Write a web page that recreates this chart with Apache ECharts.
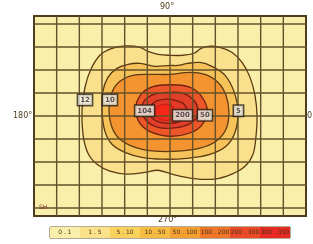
<!DOCTYPE html>
<html>
<head>
<meta charset="utf-8">
<script src="https://cdn.jsdelivr.net/npm/echarts@6/dist/echarts.min.js"></script>
<style>
  html, body { margin: 0; padding: 0; background: #fff; }
  #main { width: 313px; height: 244px; }
</style>
</head>
<body>
<div id="main"></div>
<script>
  // plot extent in grid cells (x: 12 columns, y: rows around the 180-0 line)
  var xMin = 0, xMax = 12;
  var yMin = -4.35, yMax = 4.35;
  var colTicks = [1, 2, 3, 4, 5, 6, 7, 8, 9, 10, 11];
  var rowTicks = [-4, -3, -2, -1, 0, 1, 2, 3, 4];

  // contour outlines, outermost first (in grid cells)
  var contour1 = [[6.00, 2.64], [5.47, 2.68], [5.03, 2.81], [4.68, 2.99], [4.06, 3.05], [3.44, 2.94], [2.91, 2.64], [2.51, 2.03],
    [2.25, 1.25], [2.12, 0.29], [2.16, -0.80], [2.38, -1.62], [2.78, -2.10], [3.35, -2.40], [4.10, -2.53], [4.90, -2.45],
    [5.47, -2.36], [6.09, -2.53], [6.97, -2.71], [7.94, -2.75], [8.73, -2.53], [9.31, -2.19], [9.66, -1.67], [9.79, -0.93],
    [9.84, 0.00], [9.75, 0.90], [9.53, 1.68], [9.18, 2.33], [8.73, 2.77], [8.20, 2.99], [7.68, 3.03], [7.37, 2.94],
    [7.06, 2.73], [6.53, 2.64]];
  var contour2 = [[6.00, 2.20], [5.34, 2.16], [4.68, 2.29], [4.15, 2.25], [3.66, 2.07], [3.26, 1.68], [3.04, 1.07], [3.00, 0.20],
    [3.13, -0.67], [3.44, -1.23], [4.01, -1.58], [4.76, -1.80], [5.69, -1.88], [6.75, -1.84], [7.76, -1.67], [8.47, -1.32],
    [8.87, -0.71], [9.00, 0.20], [8.82, 1.07], [8.43, 1.77], [7.85, 2.16], [7.32, 2.33], [6.79, 2.29], [6.35, 2.20]];
  var contour3 = [[6.00, 1.81], [5.12, 1.81], [4.37, 1.77], [3.79, 1.51], [3.44, 1.03], [3.31, 0.29], [3.44, -0.49], [3.79, -1.01],
    [4.46, -1.36], [5.34, -1.53], [6.35, -1.53], [7.32, -1.40], [8.03, -1.10], [8.47, -0.58], [8.60, 0.16], [8.47, 0.90],
    [8.12, 1.46], [7.54, 1.81], [6.88, 1.90]];
  var contour4 = [[6.04, 1.36], [5.21, 1.27], [4.70, 0.92], [4.48, 0.29], [4.66, -0.30], [5.12, -0.68], [6.00, -0.88], [6.88, -0.74],
    [7.43, -0.36], [7.64, 0.29], [7.34, 0.92], [6.84, 1.27]];
  var contour5 = [[6.00, 1.03], [5.29, 0.94], [4.85, 0.64], [4.76, 0.20], [4.98, -0.23], [5.47, -0.49], [6.09, -0.53], [6.75, -0.40],
    [7.15, -0.10], [7.24, 0.29], [7.01, 0.73], [6.57, 0.99]];
  var contour6 = [[5.91, 0.73], [5.38, 0.64], [5.12, 0.38], [5.12, 0.03], [5.43, -0.23], [6.00, -0.32], [6.53, -0.19], [6.75, 0.12],
    [6.62, 0.51], [6.22, 0.68]];
  var contour7 = [[5.69, 0.51], [5.43, 0.38], [5.34, 0.16], [5.47, -0.10], [5.87, -0.19], [6.13, -0.06], [6.18, 0.25], [6.04, 0.47]];

  var contours = [contour1, contour2, contour3, contour4, contour5, contour6, contour7];
  var contourColors = ['#f8e08c', '#f6c35a', '#f39430', '#ec5628', '#e0402a', '#e33a26', '#f52818'];
  var contourStroke = ['#5c3a12', '#5c3a12', '#5c3a12', '#6e2410', '#7a1c12', '#7a1c12', '#c8201a'];

  // value boxes on the contours
  var boxText = ['12', '10', '104', '200', '50', '5'];
  var boxX = [2.25, 3.35, 4.88, 6.55, 7.54, 9.02];
  var boxY = [0.70, 0.70, 0.23, 0.03, 0.03, 0.23];

  // colour scale below the chart
  var legendLabels = ['0 . 1', '1 . 5', '5 . 10', '10 . 50', '50 . 100', '100 . 200', '200 . 300', '300 . 350'];
  var legendColors = ['#f9efaa', '#f9e28a', '#f8d25c', '#f6bb42', '#f49f32', '#f0762a', '#ea4a26', '#e82a22'];

  var chart = echarts.init(document.getElementById('main'));

  var option = {
    animation: false,
    grid: [
      {left: 34, right: 7, top: 16, bottom: 28, show: true, backgroundColor: '#f9efaa', borderColor: '#4e3c1c', borderWidth: 2},
      {left: 50, width: 240, top: 227, height: 11, show: true, borderColor: '#6a5634', borderWidth: 1}
    ],
    xAxis: [
      {type: 'value', min: xMin, max: xMax, show: false},
      {type: 'category', gridIndex: 1, data: legendLabels, show: false}
    ],
    yAxis: [
      {type: 'value', min: yMin, max: yMax, show: false},
      {type: 'value', gridIndex: 1, min: 0, max: 1, show: false}
    ],
    graphic: [
      {type: 'text', left: 160, top: 3, style: {text: '90°', fontSize: 8, fill: '#4e3c1c', fontFamily: 'DejaVu Sans'}},
      {type: 'text', left: 158, top: 216, style: {text: '270°', fontSize: 8, fill: '#4e3c1c', fontFamily: 'DejaVu Sans'}},
      {type: 'text', left: 13, top: 112, style: {text: '180°', fontSize: 8, fill: '#4e3c1c', fontFamily: 'DejaVu Sans'}},
      {type: 'text', left: 307, top: 112, style: {text: '0', fontSize: 8, fill: '#4e3c1c', fontFamily: 'DejaVu Sans'}},
      {type: 'text', left: 39, top: 204, z: 20, style: {text: 'SH', fontSize: 6, fill: '#7a3020', fontFamily: 'DejaVu Sans'}}
    ],
    series: [
      {
        type: 'custom',
        z: 2,
        data: contours.map(function (c, i) { return [i, 0]; }),
        renderItem: function (params, api) {
          var i = params.dataIndex;
          var pts = contours[i].map(function (p) { return api.coord(p); });
          return {
            type: 'polygon',
            shape: {points: pts, smooth: 0.35},
            style: {fill: contourColors[i], stroke: contourStroke[i], lineWidth: 1.3}
          };
        }
      },
      {
        // vertical grid lines
        type: 'custom',
        z: 4,
        data: colTicks.map(function (v) { return [v, 0]; }),
        renderItem: function (params, api) {
          var a = api.coord([api.value(0), yMin]), b = api.coord([api.value(0), yMax]);
          return {type: 'line', shape: {x1: a[0], y1: a[1], x2: b[0], y2: b[1]}, style: {stroke: '#64502a', lineWidth: 1.4}};
        }
      },
      {
        // horizontal grid lines
        type: 'custom',
        z: 4,
        data: rowTicks.map(function (v) { return [0, v]; }),
        renderItem: function (params, api) {
          var a = api.coord([xMin, api.value(1)]), b = api.coord([xMax, api.value(1)]);
          return {type: 'line', shape: {x1: a[0], y1: a[1], x2: b[0], y2: b[1]}, style: {stroke: '#64502a', lineWidth: 1.4}};
        }
      },
      {
        type: 'scatter',
        z: 6,
        symbol: 'circle',
        symbolSize: 1,
        itemStyle: {color: 'rgba(0,0,0,0)'},
        data: boxText.map(function (t, i) { return {value: [boxX[i], boxY[i]], name: t}; }),
        label: {
          show: true,
          position: 'inside',
          formatter: '{b}',
          fontSize: 7,
          fontWeight: 'bold',
          fontFamily: 'DejaVu Sans',
          color: '#2a2a3a',
          backgroundColor: '#f4f0e6',
          borderColor: '#2a2218',
          borderWidth: 1.5,
          padding: [2, 2, 1, 2]
        }
      },
      {
        type: 'bar',
        xAxisIndex: 1,
        yAxisIndex: 1,
        barWidth: '100%',
        barCategoryGap: 0,
        data: legendColors.map(function (c) { return {value: 1, itemStyle: {color: c}}; }),
        label: {
          show: true,
          position: 'inside',
          formatter: '{b}',
          fontSize: 6,
          fontFamily: 'DejaVu Sans',
          color: '#4a3418'
        }
      }
    ]
  };

  chart.setOption(option);
</script>
</body>
</html>
